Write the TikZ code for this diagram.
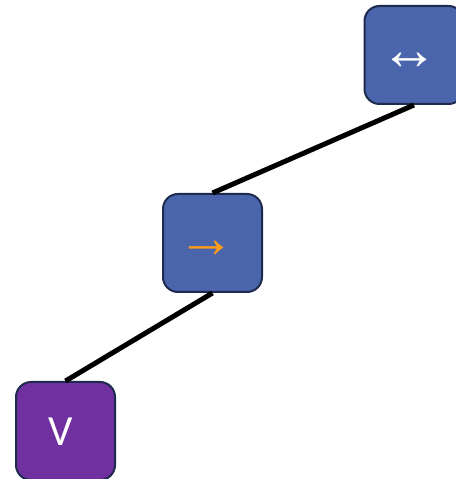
\documentclass[tikz,border=0pt]{standalone}
\usepackage{fontspec}
\setmainfont{Carlito}
\newfontfamily\symfont{Liberation Sans}
\definecolor{boxblue}{HTML}{4A65AC}
\definecolor{boxpurple}{HTML}{7030A0}
\definecolor{boxedge}{HTML}{1F2B4E}
\definecolor{arrorange}{HTML}{FF9D1A}
\begin{document}
\begin{tikzpicture}[x=1pt,y=1pt,
  tile/.style={draw=boxedge, line width=2pt, rounded corners=15pt,
    minimum width=99pt, minimum height=98pt, inner sep=0pt},
  glyph/.style={inner sep=0pt, font=\symfont\fontsize{58}{58}\selectfont},
  link/.style={line width=5pt, black}]
\useasboundingbox (0,0) rectangle (455,479);
\node[tile, fill=boxblue] (top) at (414,424) {};
\node[tile, fill=boxblue] (mid) at (212.5,236) {};
\node[tile, fill=boxpurple] (bot) at (65.5,48) {};
\node[glyph, text=white] (topsym) at ([xshift=-5pt,yshift=-6pt]top.center) {↔};
\node[glyph, text=arrorange] (midsym) at ([xshift=-6pt,yshift=-6pt]mid.center) {→};
\node[inner sep=0pt, text=white, font=\fontsize{43}{43}\selectfont] (botsym) at ([xshift=-5pt,yshift=-1pt]bot.center) {V};
\draw[link] (top.south) -- (mid.north);
\draw[link] (mid.south) -- (bot.north);
\end{tikzpicture}
\end{document}
